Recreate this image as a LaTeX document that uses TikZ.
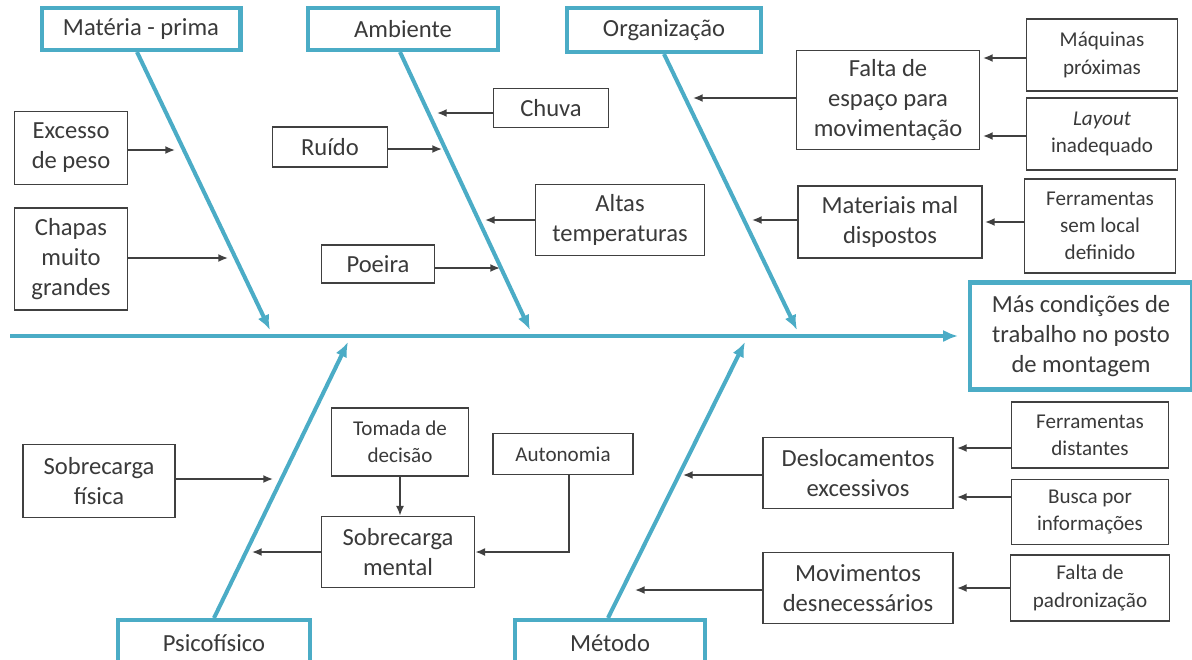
\documentclass[tikz,border=0pt]{standalone}
\usepackage{fontspec}
\setmainfont{Carlito}
\usepackage{xcolor}
\usetikzlibrary{shapes,arrows.meta,positioning,calc}

\definecolor{fishblue}{HTML}{4BACC6}
\definecolor{boxgray}{HTML}{404040}
\definecolor{txtgray}{HTML}{3A3A3A}

\tikzset{
    cat/.style={draw=fishblue, line width=2.3pt, fill=white, text=txtgray, align=center, inner sep=0pt,
        font=\fontsize{14}{17}\selectfont},
    cause/.style={draw=boxgray, line width=1pt, fill=white, text=txtgray, align=center, inner sep=0pt,
        font=\fontsize{14}{17}\selectfont},
    small/.style={font=\fontsize{12}{15.5}\selectfont},
    bone/.style={draw=fishblue, line width=2.3pt, -{Latex[length=8.5pt,width=7pt]}},
    arr/.style={draw=boxgray, line width=0.9pt, -{Latex[length=5.5pt,width=4.5pt]}},
}

\begin{document}
\begin{tikzpicture}[x=0.02cm, y=-0.02cm]
    \useasboundingbox (0,0) rectangle (1192,659);
    \clip (0,0) rectangle (1192,659);

    % espinha e efeito
    \node[cat, minimum width=4.44cm, minimum height=2.14cm] (effect) at (1081,336)
        {Más condições de\\trabalho no posto\\de montagem};
    \coordinate (sstart) at (10,336);
    \draw[bone, shorten >=0.2cm] (sstart) -- (effect.west);

    % categorias
    \node[cat, minimum width=3.98cm, minimum height=0.84cm] (materia) at (141,29) {Matéria - prima};
    \node[cat, minimum width=3.8cm, minimum height=0.84cm] (ambiente) at (403,29) {Ambiente};
    \node[cat, minimum width=3.88cm, minimum height=0.88cm] (organizacao) at (664,30) {Organização};
    \node[cat, minimum width=3.84cm, minimum height=0.92cm] (psicofisico) at (214,643) {Psicofísico};
    \node[cat, minimum width=3.8cm, minimum height=0.92cm] (metodo) at (610,643) {Método};

    \coordinate (mtip) at (270,330);
    \coordinate (atip) at (530,330);
    \coordinate (otip) at (797,330);
    \coordinate (ptip) at (348,342);
    \coordinate (etip) at (745,342);

    \draw[bone] ([xshift=-0.08cm]materia.south) -- (mtip);
    \draw[bone] ([xshift=-0.06cm]ambiente.south) -- (atip);
    \draw[bone] (organizacao.south) -- (otip);
    \draw[bone] (psicofisico.north) -- (ptip);
    \draw[bone] ([xshift=-0.04cm]metodo.north) -- (etip);

    % materia-prima
    \node[cause, minimum width=2.26cm, minimum height=1.46cm] (excesso) at (71,148) {Excesso\\de peso};
    \node[cause, minimum width=2.26cm, minimum height=2.04cm] (chapas) at (71,259) {Chapas\\muito\\grandes};
    \coordinate (t-excesso) at (175,150);
    \coordinate (t-chapas) at (228,258);
    \draw[arr] (excesso.east |- t-excesso) -- (t-excesso);
    \draw[arr] (chapas.east |- t-chapas) -- (t-chapas);

    % ambiente
    \node[cause, minimum width=2.3cm, minimum height=0.8cm] (ruido) at (330,147) {Ruído};
    \node[cause, minimum width=2.26cm, minimum height=0.76cm] (poeira) at (378,264) {Poeira};
    \node[cause, minimum width=2.3cm, minimum height=0.78cm] (chuva) at (551,108) {Chuva};
    \node[cause, minimum width=3.38cm, minimum height=1.42cm] (altas) at (620,220) {Altas\\temperaturas};
    \coordinate (t-ruido) at (442,149);
    \coordinate (t-poeira) at (500,268);
    \coordinate (t-chuva) at (437,113);
    \coordinate (t-altas) at (485,220);
    \draw[arr] (ruido.east |- t-ruido) -- (t-ruido);
    \draw[arr] (poeira.east |- t-poeira) -- (t-poeira);
    \draw[arr] (chuva.west |- t-chuva) -- (t-chuva);
    \draw[arr] (altas.west |- t-altas) -- (t-altas);

    % organizacao
    \node[cause, minimum width=3.66cm, minimum height=1.98cm] (espaco) at (888,100) {Falta de\\espaço para\\movimentação};
    \node[cause, minimum width=3.68cm, minimum height=1.44cm] (materiais) at (890,222) {Materiais mal\\dispostos};
    \node[cause, small, minimum width=3.02cm, minimum height=1.44cm] (maquinas) at (1102,55) {Máquinas\\próximas};
    \node[cause, small, minimum width=3.02cm, minimum height=1.44cm] (layout) at (1102,134) {\textit{Layout}\\inadequado};
    \node[cause, small, minimum width=3.02cm, minimum height=1.88cm] (semlocal) at (1100,226) {Ferramentas\\sem local\\definido};
    \coordinate (t-espaco) at (693,98);
    \coordinate (t-materiais) at (752,220);
    \coordinate (t-maquinas) at (983,58);
    \coordinate (t-layout) at (983,136);
    \coordinate (t-semlocal) at (985,222);
    \draw[arr] (espaco.west |- t-espaco) -- (t-espaco);
    \draw[arr] (materiais.west |- t-materiais) -- (t-materiais);
    \draw[arr] (maquinas.west |- t-maquinas) -- (t-maquinas);
    \draw[arr] (layout.west |- t-layout) -- (t-layout);
    \draw[arr] (semlocal.west |- t-semlocal) -- (t-semlocal);

    % psicofisico
    \node[cause, minimum width=3.04cm, minimum height=1.46cm] (fisica) at (99,481) {Sobrecarga\\física};
    \node[cause, small, minimum width=2.74cm, minimum height=1.36cm] (tomada) at (400,442) {Tomada de\\decisão};
    \node[cause, minimum width=3.06cm, minimum height=1.42cm] (mental) at (398,552) {Sobrecarga\\mental};
    \node[cause, small, minimum width=2.8cm, minimum height=0.82cm] (autonomia) at (563,454) {Autonomia};
    \coordinate (t-fisica) at (273,479);
    \coordinate (t-mental) at (252,552);
    \draw[arr] (fisica.east |- t-fisica) -- (t-fisica);
    \draw[arr] (mental.west) -- (t-mental);
    \draw[arr] (tomada.south) -- (tomada.south |- mental.north);
    \draw[arr] ([xshift=0.12cm]autonomia.south) |- (mental.east);

    % metodo
    \node[cause, minimum width=3.8cm, minimum height=1.42cm] (desloc) at (858,473) {Deslocamentos\\excessivos};
    \node[cause, minimum width=3.8cm, minimum height=1.42cm] (movim) at (858,588) {Movimentos\\desnecessários};
    \node[cause, small, minimum width=3.14cm, minimum height=1.32cm] (distantes) at (1090,435) {Ferramentas\\distantes};
    \node[cause, small, minimum width=3.14cm, minimum height=1.3cm] (busca) at (1090,512) {Busca por\\informações};
    \node[cause, small, minimum width=3.18cm, minimum height=1.32cm] (padron) at (1090,588) {Falta de\\padronização};
    \coordinate (t-desloc) at (683,475);
    \coordinate (t-movim) at (635,590);
    \coordinate (t-distantes) at (957,448);
    \coordinate (t-busca) at (957,497);
    \coordinate (t-padron) at (957,588);
    \draw[arr] (desloc.west |- t-desloc) -- (t-desloc);
    \draw[arr] (movim.west |- t-movim) -- (t-movim);
    \draw[arr] (distantes.west |- t-distantes) -- (t-distantes);
    \draw[arr] (busca.west |- t-busca) -- (t-busca);
    \draw[arr] (padron.west |- t-padron) -- (t-padron);
\end{tikzpicture}
\end{document}
